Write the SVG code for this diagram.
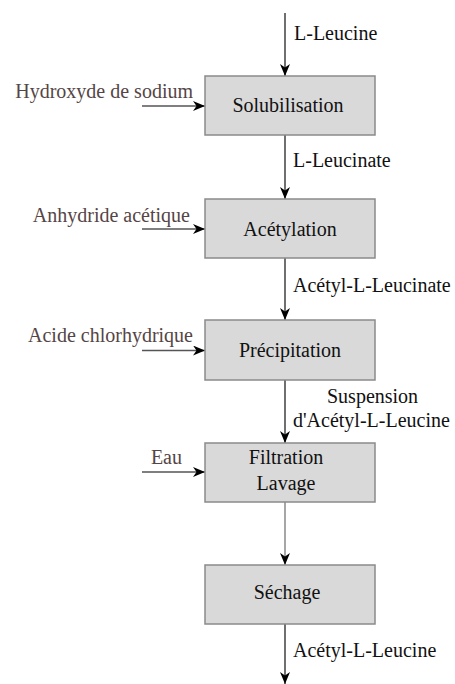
<svg xmlns="http://www.w3.org/2000/svg" width="455" height="684" viewBox="0 0 455 684">
<style>
.box{fill:#d9d9d9;stroke:#8a8a8a;stroke-width:1.5}
.t{font-family:"Liberation Serif","Times New Roman",serif;font-size:20px;fill:#111}
.c{text-anchor:middle}
.in{font-family:"Liberation Serif","Times New Roman",serif;font-size:20px;fill:#554545;text-anchor:end}
.ln{stroke:#222;stroke-width:1.3;fill:none;marker-end:url(#ah)}
.g{stroke:#777}
.s{stroke:#555}
</style>
<defs>
<marker id="ah" markerUnits="userSpaceOnUse" markerWidth="12" markerHeight="10" viewBox="0 0 12 10" refX="12" refY="5" orient="auto">
<path d="M0,0 L12,5 L0,10 L3.5,5 z" fill="#000"/>
</marker>
</defs>
<g id="connectors">
<line class="ln" x1="285" y1="13" x2="285" y2="76"/>
<line class="ln" x1="285" y1="135" x2="285" y2="199"/>
<line class="ln" x1="285" y1="258" x2="285" y2="320"/>
<line class="ln" x1="285" y1="380" x2="285" y2="443"/>
<line class="ln g" x1="285" y1="502" x2="285" y2="565"/>
<line class="ln" x1="285" y1="624" x2="285" y2="684"/>
<line class="ln s" x1="142" y1="106" x2="205" y2="106"/>
<line class="ln s" x1="142" y1="229" x2="205" y2="229"/>
<line class="ln s" x1="142" y1="350.5" x2="205" y2="350.5"/>
<line class="ln s" x1="142" y1="472" x2="205" y2="472"/>
<text class="t" x="294" y="40">L-Leucine</text>
<text class="t" x="293" y="167">L-Leucinate</text>
<text class="t" x="293" y="292">Acétyl-L-Leucinate</text>
<text class="t" x="327" y="403">Suspension</text>
<text class="t" x="293" y="427">d'Acétyl-L-Leucine</text>
<text class="t" x="293" y="657">Acétyl-L-Leucine</text>
<text class="in" x="193" y="98">Hydroxyde de sodium</text>
<text class="in" x="190" y="222">Anhydride acétique</text>
<text class="in" x="193" y="342">Acide chlorhydrique</text>
<text class="in" x="182" y="464">Eau</text>
</g>
<g id="solubilisation">
<rect class="box" x="205" y="76" width="170" height="59"/>
<text class="t c" x="288" y="112">Solubilisation</text>
</g>
<g id="acetylation">
<rect class="box" x="205" y="199" width="170" height="59"/>
<text class="t c" x="290" y="236">Acétylation</text>
</g>
<g id="precipitation">
<rect class="box" x="205" y="320" width="170" height="60"/>
<text class="t c" x="290" y="357">Précipitation</text>
</g>
<g id="filtration">
<rect class="box" x="205" y="443" width="170" height="59"/>
<text class="t c" x="286" y="464">Filtration</text>
<text class="t c" x="286" y="490">Lavage</text>
</g>
<g id="sechage">
<rect class="box" x="205" y="565" width="170" height="59"/>
<text class="t c" x="287" y="599">Séchage</text>
</g>
</svg>
